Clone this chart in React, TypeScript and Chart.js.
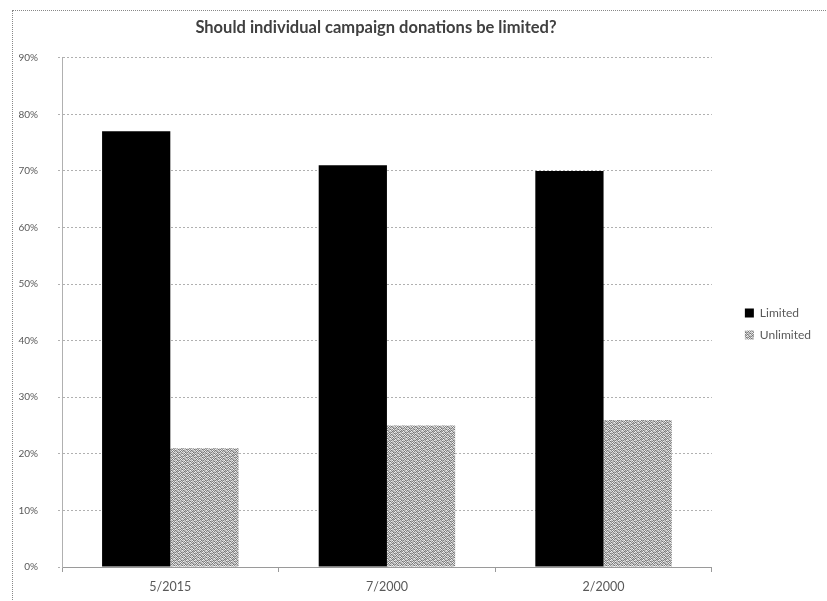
import React, { useEffect, useRef } from "react";
import { Chart, registerables } from "chart.js";

Chart.register(...registerables);

const categories = ["5/2015", "7/2000", "2/2000"];
const limitedValues = [77, 71, 70];
const unlimitedValues = [21, 25, 26];
const seriesNames = ["Limited", "Unlimited"];
const titleText = "Should individual campaign donations be limited?";

const patternRows = [
  "a3b1c2d0",
  "1d2a0c3b",
  "c0b3a1d2",
  "2a1d3b0c",
  "b2d0c3a1",
  "0c3b1a2d",
  "d1a2b0c3",
  "3b0c2d1a",
];
const shade: Record<string, number> = {
  a: 240, b: 205, c: 170, d: 220, "0": 115, "1": 145, "2": 190, "3": 130,
};

function makePattern(): CanvasPattern | string {
  const c = document.createElement("canvas");
  c.width = 8;
  c.height = 8;
  const ctx = c.getContext("2d");
  if (!ctx) return "#aaaaaa";
  for (let y = 0; y < 8; y++) {
    for (let x = 0; x < 8; x++) {
      const v = shade[patternRows[y][x]];
      ctx.fillStyle = `rgb(${v},${v},${v})`;
      ctx.fillRect(x, y, 1, 1);
    }
  }
  const p = ctx.createPattern(c, "repeat");
  return p || "#aaaaaa";
}

export default function App() {
  const ref = useRef<HTMLCanvasElement | null>(null);
  useEffect(() => {
    if (!ref.current) return;
    const pattern = makePattern();
    const font = "Lato, 'Open Sans', sans-serif";
    const chart = new Chart(ref.current, {
      type: "bar",
      data: {
        labels: categories,
        datasets: [
          {
            label: seriesNames[0],
            data: limitedValues,
            backgroundColor: "#000000",
            borderWidth: 0,
          },
          {
            label: seriesNames[1],
            data: unlimitedValues,
            backgroundColor: pattern as any,
            borderWidth: 0,
          },
        ],
      },
      options: {
        animation: false,
        responsive: false,
        maintainAspectRatio: false,
        layout: { padding: { left: 0, right: 6, top: 0, bottom: 0 } },
        datasets: {
          bar: { categoryPercentage: 0.63, barPercentage: 1.0 },
        },
        plugins: {
          title: {
            display: true,
            text: titleText,
            fullSize: false,
            color: "#404040",
            font: { family: font, size: 16.5, weight: "bold" },
            padding: { top: 7, bottom: 20 },
          },
          legend: {
            position: "right",
            labels: {
              boxWidth: 9,
              boxHeight: 9,
              color: "#595959",
              font: { family: font, size: 12 },
              padding: 10,
            },
          },
          tooltip: { enabled: false },
        },
        scales: {
          x: {
            offset: true,
            grid: {
              offset: true,
              drawOnChartArea: false,
              drawTicks: true,
              tickLength: 5,
              color: "#9a9a9a",
            },
            border: { display: true, color: "#9a9a9a" },
            ticks: {
              color: "#595959",
              font: { family: font, size: 12.5 },
              padding: 7,
            },
          },
          y: {
            min: 0,
            max: 90,
            afterFit: (s: any) => {
              s.width = 49;
            },
            ticks: {
              stepSize: 10,
              color: "#595959",
              font: { family: font, size: 10 },
              padding: 20,
              callback: (v: any) => `${v}%`,
            },
            grid: {
              color: "#b0b0b0",
              tickLength: 4,
            },
            border: { display: true, color: "#b0b0b0", dash: [2, 2] },
          },
          spacer: {
            type: "linear",
            position: "right",
            display: true,
            grid: { display: false, drawTicks: false },
            border: { display: false },
            ticks: { display: false },
            afterFit: (s: any) => {
              s.width = 23;
            },
          },
        },
      },
      plugins: [
        {
          id: "layoutTweak",
          afterLayout(c: any) {
            const t = c.titleBlock;
            if (t) {
              t.left -= 22;
            }
            const l = c.legend;
            if (l) {
              l.top += 18;
              l.bottom += 18;
            }
          },
        },
      ],
    } as any);
    (chart.options.scales as any).y.grid.borderDash = [2, 2];
    (chart.options.scales as any).y.border.dash = [2, 2];
    (chart.options.scales as any).y.grid.tickBorderDash = [2, 2];
    chart.update();
    return () => chart.destroy();
  }, []);
  return (
    <div
      style={{
        position: "absolute",
        left: 12,
        top: 10,
        width: 830,
        height: 600,
        border: "1px dotted #888",
        background: "#fff",
      }}
    >
      <canvas ref={ref} width={814} height={590} style={{ display: "block" }} />
    </div>
  );
}
